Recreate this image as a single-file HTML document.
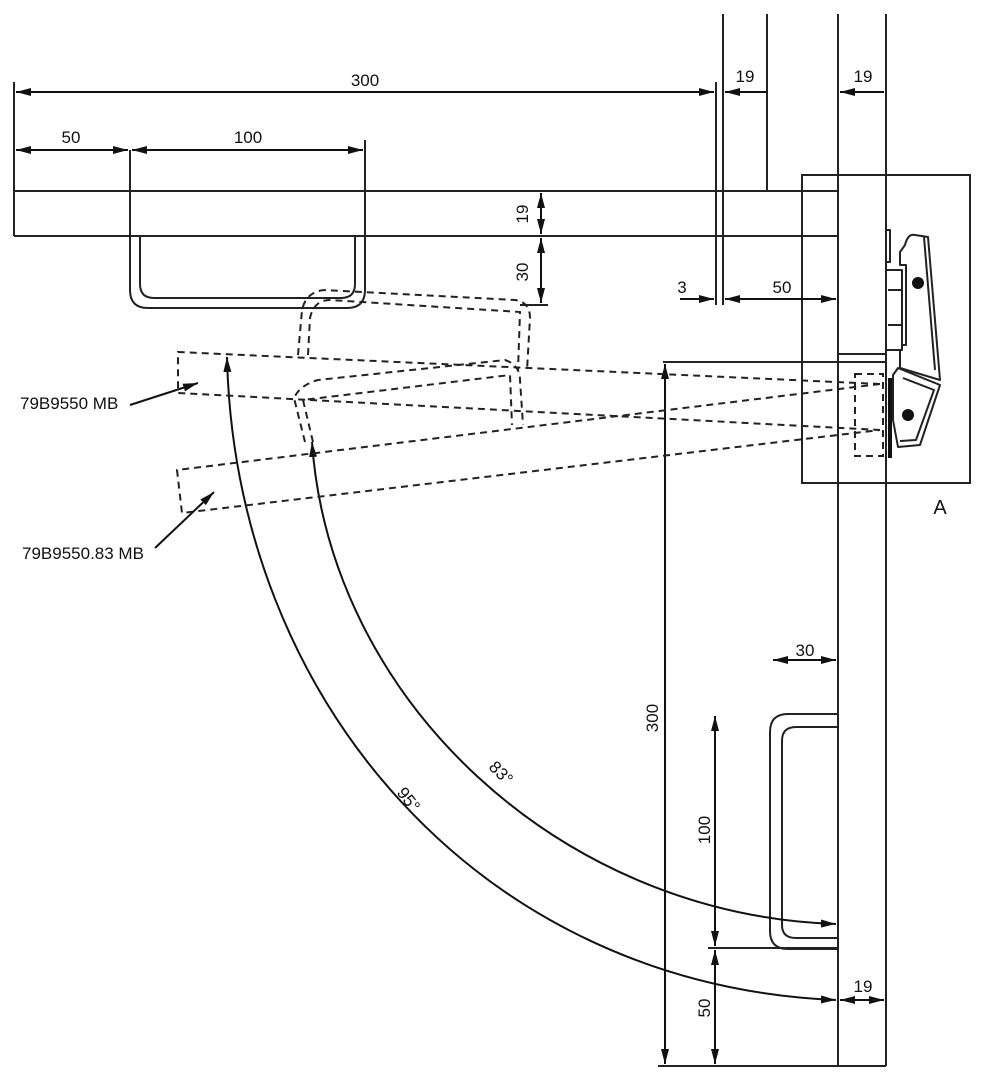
<!DOCTYPE html>
<html><head><meta charset="utf-8"><style>
html,body{margin:0;padding:0;background:#fff;}
svg{display:block;}
text{font-family:"Liberation Sans",sans-serif;font-size:17px;fill:#111;}
</style></head><body>
<svg width="985" height="1080" viewBox="0 0 985 1080" xmlns="http://www.w3.org/2000/svg">
<defs>
<marker id="a" viewBox="0 0 14 8" refX="14" refY="4" markerWidth="15" markerHeight="8" markerUnits="userSpaceOnUse" orient="auto-start-reverse" preserveAspectRatio="none"><path d="M0,0 L14,4 L0,8 z" fill="#111"/></marker>
</defs>
<g stroke="#222" stroke-width="2" fill="none">
<line x1="14" y1="191" x2="838" y2="191"/>
<line x1="14" y1="236" x2="838" y2="236"/>
<line x1="14" y1="82" x2="14" y2="236"/>
<line x1="723" y1="14" x2="723" y2="305"/>
<line x1="716" y1="82" x2="716" y2="305"/>
<line x1="767" y1="14" x2="767" y2="191"/>
<line x1="838" y1="14" x2="838" y2="1066"/>
<line x1="886" y1="14" x2="886" y2="1066"/>
<line x1="658" y1="1066" x2="886" y2="1066"/>
<line x1="838" y1="354" x2="886" y2="354"/>
<line x1="663" y1="362" x2="886" y2="362"/>
<rect x="802" y="175" width="168" height="308"/>
<path d="M130,150 V290 Q130,308 148,308 H347 Q365,308 365,290 V140"/>
<path d="M140,236 V284 Q140,298 154,298 H341 Q355,298 355,284 V236"/>
<path d="M838,714 H788 Q770,714 770,732 V931 Q770,949 788,949 H838"/>
<path d="M838,727 H796 Q782,727 782,741 V925 Q782,938 796,938 H838"/>
<line x1="708" y1="948" x2="838" y2="948"/>
<line x1="520" y1="305" x2="548" y2="305"/>
</g>
<g stroke="#111" stroke-width="2" fill="none">
<line x1="16" y1="92" x2="714" y2="92" marker-start="url(#a)" marker-end="url(#a)"/>
<line x1="767" y1="92" x2="725" y2="92" marker-end="url(#a)"/>
<line x1="884" y1="92" x2="840" y2="92" marker-end="url(#a)"/>
<line x1="16" y1="150" x2="128" y2="150" marker-start="url(#a)" marker-end="url(#a)"/>
<line x1="132" y1="150" x2="363" y2="150" marker-start="url(#a)" marker-end="url(#a)"/>
<line x1="541" y1="193" x2="541" y2="234" marker-start="url(#a)" marker-end="url(#a)"/>
<line x1="541" y1="238" x2="541" y2="303" marker-start="url(#a)" marker-end="url(#a)"/>
<line x1="680" y1="299" x2="714" y2="299" marker-end="url(#a)"/>
<line x1="725" y1="299" x2="836" y2="299" marker-start="url(#a)" marker-end="url(#a)"/>
<line x1="665" y1="364" x2="665" y2="1064" marker-start="url(#a)" marker-end="url(#a)"/>
<line x1="773" y1="660" x2="836" y2="660" marker-start="url(#a)" marker-end="url(#a)"/>
<line x1="715" y1="716" x2="715" y2="946" marker-start="url(#a)" marker-end="url(#a)"/>
<line x1="715" y1="950" x2="715" y2="1064" marker-start="url(#a)" marker-end="url(#a)"/>
<line x1="840" y1="1000" x2="884" y2="1000" marker-start="url(#a)" marker-end="url(#a)"/>
<path d="M227,357 C235,700 480,985 836,1000" marker-start="url(#a)" marker-end="url(#a)"/>
<path d="M312,442 C330,700 560,915 836,924" marker-start="url(#a)" marker-end="url(#a)"/>
<line x1="130" y1="405" x2="198" y2="383" marker-end="url(#a)"/>
<line x1="155" y1="548" x2="214" y2="492" marker-end="url(#a)"/>
</g>
<g stroke="#222" stroke-width="2" fill="none" stroke-dasharray="7,5">
<path d="M880,384 L178,352 L178,393 L880,430"/>
<path d="M880,384 L177,470 L182,513 L880,430"/>
<path d="M298,355 L302,310 Q306,292 324,290 L515,300 Q530,302 530,318 L527,370"/>
<path d="M308,355 L310,318 Q314,300 330,300 L520,312 L518,370"/>
<path d="M305,442 L294,398 Q300,385 318,380 L505,360 Q520,365 520,380 L523,425"/>
<path d="M313,442 L303,400 L510,375 L512,425"/>
<rect x="855" y="374" width="28" height="82"/>
</g>
<g stroke="#222" stroke-width="2" fill="#fff" stroke-linejoin="round">
<rect x="886" y="230" width="4" height="32"/>
<path d="M905,245 Q908,233 915,235 L928,237 L940,380 L900,368 L900,345 L906,345 L906,265 L900,265 L900,252 Z"/>
<line x1="924" y1="237" x2="935" y2="370"/>
<path d="M898,368 L940,385 L920,445 L898,447 L893,420 L893,375 Z"/>
<path d="M903,378 L934,390 L916,440 L900,441"/>
<rect x="886" y="270" width="16" height="80"/>
<line x1="888" y1="290" x2="902" y2="290"/>
<line x1="888" y1="325" x2="902" y2="325"/>
</g>
<line x1="890" y1="378" x2="890" y2="458" stroke="#111" stroke-width="4"/>
<circle cx="918" cy="283" r="6" fill="#111"/>
<circle cx="908" cy="415" r="6" fill="#111"/>
<text x="365" y="86" text-anchor="middle">300</text>
<text x="745" y="82" text-anchor="middle">19</text>
<text x="863" y="82" text-anchor="middle">19</text>
<text x="71" y="143" text-anchor="middle">50</text>
<text x="248" y="143" text-anchor="middle">100</text>
<text transform="translate(528,214) rotate(-90)" text-anchor="middle">19</text>
<text transform="translate(528,272) rotate(-90)" text-anchor="middle">30</text>
<text x="682" y="293" text-anchor="middle">3</text>
<text x="782" y="293" text-anchor="middle">50</text>
<text x="805" y="656" text-anchor="middle">30</text>
<text transform="translate(658,718) rotate(-90)" text-anchor="middle">300</text>
<text transform="translate(710,830) rotate(-90)" text-anchor="middle">100</text>
<text transform="translate(710,1008) rotate(-90)" text-anchor="middle">50</text>
<text x="863" y="992" text-anchor="middle">19</text>
<text x="20" y="409">79B9550 MB</text>
<text x="22" y="559">79B9550.83 MB</text>
<text x="940" y="514" text-anchor="middle" style="font-size:20px">A</text>
<text transform="translate(404,803) rotate(52)" text-anchor="middle">95°</text>
<text transform="translate(497,777) rotate(45)" text-anchor="middle">83°</text>
</svg>
</body></html>
